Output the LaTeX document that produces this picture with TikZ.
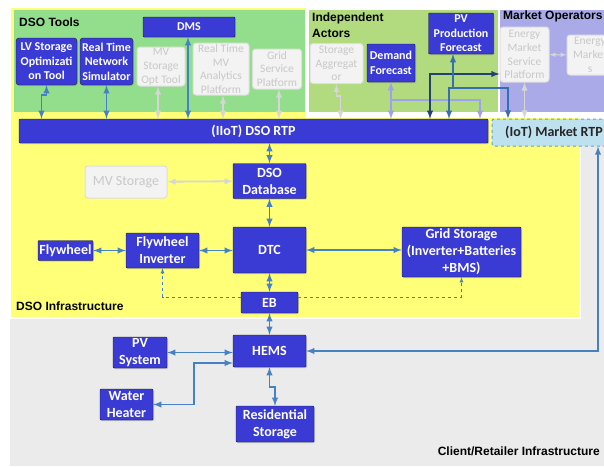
\documentclass[tikz,border=0pt]{standalone}
\usepackage{fontspec}
\setmainfont{Carlito}
\newfontfamily\arialfont{Liberation Sans}
\usetikzlibrary{positioning}
\usetikzlibrary{calc}
\usetikzlibrary{arrows}
\usetikzlibrary{shadows}
\definecolor{boxblue}{RGB}{58,58,212}
\definecolor{boxedge}{RGB}{25,25,50}
\definecolor{ghostfill}{RGB}{243,243,243}
\definecolor{ghostedge}{RGB}{222,222,222}
\definecolor{ghosttext}{RGB}{200,200,200}
\definecolor{ghostline}{RGB}{214,214,214}
\definecolor{dsogreen}{RGB}{146,222,140}
\definecolor{indgreen}{RGB}{178,218,126}
\definecolor{mktpurple}{RGB}{170,170,232}
\definecolor{infrayellow}{RGB}{255,255,120}
\definecolor{clientgrey}{RGB}{235,235,235}
\definecolor{arrblue}{RGB}{70,130,195}
\definecolor{lavender}{RGB}{160,160,240}
\definecolor{navy}{RGB}{35,65,115}
\definecolor{midblue}{RGB}{55,110,175}
\definecolor{iotfill}{RGB}{190,225,240}
\definecolor{iotedge}{RGB}{100,160,210}

\begin{document}
\begin{tikzpicture}[
    x=1pt, y=-1pt,
    >=latex,
    % node styles
    box/.style = {
      draw=boxedge,
      fill=boxblue,
      rounded corners=1pt,
      inner sep=0pt,
      align=center,
      font=\bfseries\fontsize{12}{14.6}\selectfont,
      text=white,
      drop shadow={shadow xshift=1pt, shadow yshift=-1.2pt, opacity=.35}
    },
    bigbox/.style = {
      box,
      font=\bfseries\fontsize{14}{17}\selectfont
    },
    ghost/.style = {
      draw=ghostedge,
      fill=ghostfill,
      line width=1pt,
      rounded corners=3pt,
      inner sep=0pt,
      align=center,
      font=\fontsize{11.5}{13.8}\selectfont,
      text=ghosttext
    },
    iot/.style = {
      draw=iotedge,
      fill=iotfill,
      dashed,
      line width=1pt,
      rounded corners=2pt,
      inner sep=0pt,
      font=\bfseries\fontsize{14}{17}\selectfont,
      text=black!85
    },
    lbl/.style = {
      inner sep=0pt,
      align=left,
      font=\arialfont\bfseries\fontsize{12}{15.5}\selectfont
    },
    % arrow styles
    arr/.style = {<->, line width=1.8pt, draw=arrblue},
    ghostarr/.style = {<->, line width=1.8pt, draw=ghostline},
    lavarr/.style = {<->, line width=1.8pt, draw=lavender},
    navarr/.style = {<->, line width=1.8pt, draw=navy},
    midarr/.style = {<->, line width=1.8pt, draw=midblue},
    dasharr/.style = {->, dashed, line width=0.8pt, draw=arrblue}
  ]
  \useasboundingbox (0,0) rectangle (604,466);
  \clip (0,0) rectangle (604,466);

  % --- Areas
  \fill[clientgrey] (10,146) rectangle (604,466);
  \filldraw[fill=infrayellow, draw=white, line width=1.5pt]
    (10,7) -- (307,7) -- (307,117) -- (580,117) -- (580,318) -- (10,318) -- cycle;
  \fill[dsogreen] (14,10) rectangle (305,112);
  \fill[indgreen] (309,10) rectangle (498,112);
  \fill[mktpurple] (500,10) rectangle (604,112);

  \node[lbl, anchor=west] (toolslbl) at (19,22) {DSO Tools};
  \node[lbl, anchor=north west] (actorslbl) at (312,13) {Independent\\Actors};
  \node[lbl, anchor=west] (marketlbl) at (503,16) {Market Operators};
  \node[lbl, anchor=west] (infralbl) at (16,306) {DSO Infrastructure};
  \node[lbl, anchor=east] (clientlbl) at (600,451) {Client/Retailer Infrastructure};

  % --- Nodes
  \node[box, minimum width=92pt, minimum height=20pt] (dms) at (189,27) {DMS};
  \node[box, rounded corners=3pt, minimum width=61pt, minimum height=47pt] (lvopt) at (46.5,61.5) {LV Storage\\Optimizati\\on Tool};
  \node[box, rounded corners=3pt, minimum width=53pt, minimum height=47pt] (rtsim) at (106.5,61.5) {Real Time\\Network\\Simulator};
  \node[ghost, minimum width=48pt, minimum height=39pt] (mvopt) at (161,66.5) {MV\\Storage\\Opt Tool};
  \node[ghost, minimum width=56pt, minimum height=52pt] (rtmv) at (221,69) {Real Time\\MV\\Analytics\\Platform};
  \node[ghost, minimum width=49pt, minimum height=40pt] (gsp) at (277,69) {Grid\\Service\\Platform};

  \node[ghost, minimum width=53pt, minimum height=40pt] (stagg) at (336.5,63.5) {Storage\\Aggregat\\or};
  \node[box, minimum width=48pt, minimum height=38pt] (demand) at (391,63) {Demand\\Forecast};
  \node[box, minimum width=65pt, minimum height=41pt] (pvfc) at (461,33.5) {PV\\Production\\Forecast};
  \node[ghost, minimum width=49pt, minimum height=55pt] (emsp) at (524.5,54.5) {Energy\\Market\\Service\\Platform};
  \node[ghost, minimum width=46pt, minimum height=40pt] (emkt) at (590,55) {Energy\\Market\\s};

  \node[bigbox, minimum width=469pt, minimum height=24pt] (dsortp) at (253.5,131) {(IIoT) DSO RTP};
  \node[iot, minimum width=124pt, minimum height=27pt] (mktrtp) at (554,132.5) {(IoT) Market RTP};

  \node[bigbox, minimum width=73pt, minimum height=35pt] (dsodb) at (269.5,181) {DSO\\Database};
  \node[ghost, font=\fontsize{14}{17}\selectfont, minimum width=82pt, minimum height=32pt] (mvstor) at (126,182) {MV Storage};
  \node[bigbox, minimum width=73pt, minimum height=46pt] (dtc) at (269.5,250) {DTC};
  \node[bigbox, minimum width=55pt, minimum height=20pt] (flywheel) at (65.5,250.5) {Flywheel};
  \node[bigbox, minimum width=73pt, minimum height=35pt] (flyinv) at (162.5,250.5) {Flywheel\\Inverter};
  \node[bigbox, minimum width=119pt, minimum height=50pt] (gridstor) at (461.5,252) {Grid Storage\\(Inverter+Batteries\\+BMS)};
  \node[bigbox, minimum width=57pt, minimum height=21pt] (eb) at (269.5,302.5) {EB};

  \node[bigbox, minimum width=73pt, minimum height=32pt] (hems) at (269.5,351) {HEMS};
  \node[bigbox, minimum width=54pt, minimum height=31pt] (pvsys) at (140,352.5) {PV\\System};
  \node[bigbox, minimum width=53pt, minimum height=31pt] (wheater) at (126.5,404.5) {Water\\Heater};
  \node[bigbox, minimum width=78pt, minimum height=36pt] (resstor) at (275,424) {Residential\\Storage};

  % --- Arrows (tools to RTP)
  \draw[arr] (lvopt.south) -- ++(0,10) -| ([xshift=-5pt]lvopt.south |- dsortp.north);
  \draw[arr] (rtsim) -- (rtsim |- dsortp.north);
  \draw[ghostarr] ([xshift=-3pt]mvopt.south) -- ([xshift=-3pt]mvopt.south |- dsortp.north);
  \draw[arr] ([xshift=-1pt]dms.south) -- ([xshift=-1pt]dms.south |- dsortp.north);
  \draw[ghostarr] ([xshift=2pt]rtmv.south) -- ([xshift=2pt]rtmv.south |- dsortp.north);
  \draw[ghostarr] ([xshift=2pt]gsp.south) -- ([xshift=2pt]gsp.south |- dsortp.north);

  % --- Arrows (actors and market)
  \coordinate (lavturn) at (480,100);
  \coordinate (navturn) at (430,74);
  \coordinate (pvleft) at (449,88);
  \coordinate (pvright) at (508,88);
  \draw[ghostarr] (stagg.south) -- ++(0,12) -| ([xshift=4pt]stagg.south |- dsortp.north);
  \draw[lavarr] (demand) -- (demand |- dsortp.north);
  \draw[lavarr, ->] (demand |- lavturn) -- (lavturn) -- (lavturn |- dsortp.north);
  \draw[navarr] (navturn |- dsortp.north) -- (navturn) -- (navturn -| emsp.west);
  \draw[midarr, <-] ([xshift=-8pt]pvfc.south) -- ([xshift=-8pt]pvfc.south |- pvright);
  \draw[midarr] (pvleft |- dsortp.north) -- (pvleft) -- (pvright) -- (pvright |- mktrtp.north);
  \draw[ghostarr] (emsp) -- (emsp |- mktrtp.north);
  \draw[ghostarr, line width=1pt] (emsp) -- (emkt);

  % --- Arrows (infrastructure)
  \draw[arr] (dsodb |- dsortp.south) -- (dsodb);
  \draw[ghostarr] (mvstor) -- (dsodb);
  \draw[arr] (dsodb) -- (dtc);
  \draw[arr] (flywheel) -- (flyinv);
  \draw[arr] (flyinv.east) -- (flyinv.east -| dtc.west);
  \draw[arr] (dtc) -- (dtc -| gridstor.west);
  \draw[arr] (dtc) -- (eb);
  \draw[arr] (eb) -- (hems);
  \coordinate (ebline) at (270,297);
  \draw[dasharr] (eb.west |- ebline) -| (flyinv);
  \draw[dasharr] (eb.east |- ebline) -| (gridstor);

  % --- Arrows (client side)
  \coordinate (rtpcorner) at (598,351);
  \draw[arr] (pvsys) -- (pvsys -| hems.west);
  \draw[arr] ([yshift=-12pt]hems.west) -- ++(-39,0) |- (wheater);
  \draw[arr] (hems) -- ++(0,36) -| (resstor);
  \draw[arr] (hems) -- (rtpcorner) -- (rtpcorner |- mktrtp.south);

\end{tikzpicture}
\end{document}
